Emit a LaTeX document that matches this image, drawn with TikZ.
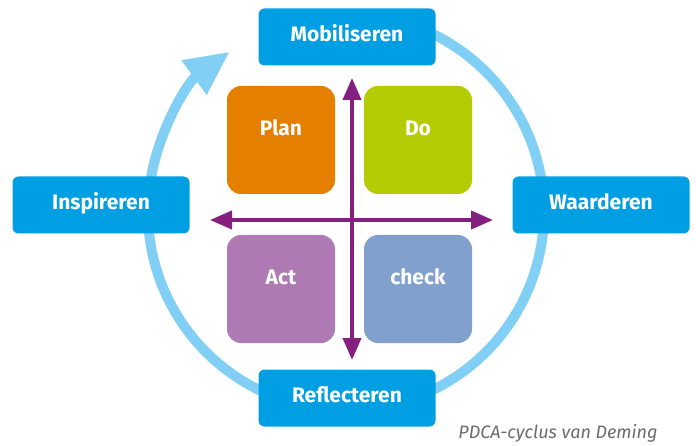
\documentclass[tikz,border=0pt]{standalone}
\usepackage{fontspec}
\setmainfont{Fira Sans}
\usepackage{tikz}
\usetikzlibrary{arrows.meta}
\definecolor{phaseblue}{RGB}{0,159,227}
\definecolor{ringblue}{RGB}{129,207,244}
\definecolor{planorange}{RGB}{229,127,0}
\definecolor{dogreen}{RGB}{181,204,5}
\definecolor{actmauve}{RGB}{175,122,179}
\definecolor{checkblue}{RGB}{130,160,206}
\definecolor{axispurple}{RGB}{134,32,128}
\tikzstyle{phase} = [rectangle, rounded corners=6pt, fill=phaseblue, text=white, font=\fontsize{21}{24}\selectfont\bfseries, minimum width=177pt, minimum height=57pt, inner sep=0pt, text height=15pt, text depth=6pt]
\tikzstyle{quad} = [rectangle, rounded corners=14pt, text=white, font=\fontsize{21}{24}\selectfont\bfseries, minimum width=108pt, minimum height=108pt, inner sep=0pt, text height=16pt, text depth=25pt]
\tikzstyle{axis} = [draw=axispurple, line width=4pt, {Triangle[length=22pt,width=18pt]}-{Triangle[length=22pt,width=18pt]}]
\tikzstyle{ring} = [draw=ringblue, line width=10pt, -{Triangle[length=44pt,width=40pt]}]

\begin{document}
\begin{tikzpicture}[x=1pt, y=-1pt]
\useasboundingbox (0,0) rectangle (696,446);
\coordinate (hub) at (346,212);
\draw [ring] (hub) ++(-80:198) arc[start angle=-80, end angle=234, radius=198];

\node [phase] (mobiliseren) at (347,37) {Mobiliseren};
\node [phase] (waarderen) at (601,205) {Waarderen};
\node [phase] (reflecteren) at (347,398) {Reflecteren};
\node [phase] (inspireren) at (101,205) {Inspireren};

\node [quad, fill=planorange] (plan) at (281,140) {Plan};
\node [quad, fill=dogreen] (do) at (418,140) {Do};
\node [quad, fill=actmauve] (act) at (281,289) {Act};
\node [quad, fill=checkblue] (check) at (418,289) {check};

\coordinate (ax-top) at (352,78);
\coordinate (ax-bottom) at (352,360);
\coordinate (ax-left) at (210,220);
\coordinate (ax-right) at (493,220);
\path [axis] (ax-left) -- (ax-right);
\path [axis] (ax-bottom) -- (ax-top);

\node [text=black!58, font=\fontsize{18}{20}\selectfont\itshape] (caption) at (558,433) {PDCA-cyclus van Deming};
\end{tikzpicture}
\end{document}
